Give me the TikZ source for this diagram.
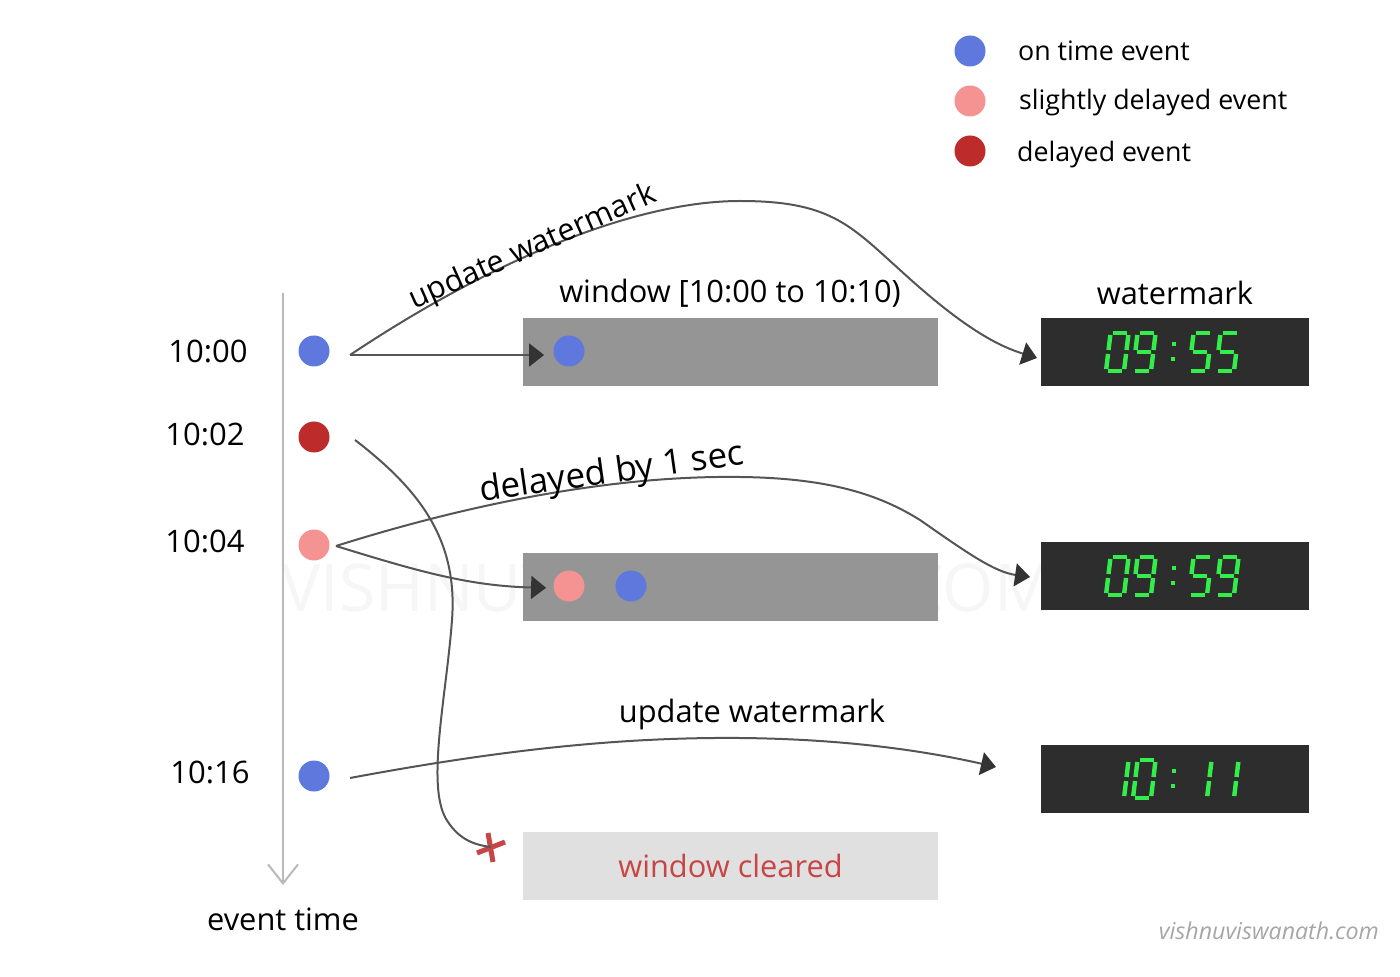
\documentclass[tikz,border=0pt]{standalone}
\usepackage{fontspec}
\setmainfont{Open Sans}
\usetikzlibrary{arrows.meta,positioning}

\definecolor{ontime}{HTML}{5F78DD}
\definecolor{slight}{HTML}{F59393}
\definecolor{late}{HTML}{BE2B2B}
\definecolor{winfill}{HTML}{959595}
\definecolor{clockfill}{HTML}{2D2D2D}
\definecolor{lcdgreen}{HTML}{33EE4A}
\definecolor{linegray}{HTML}{555555}
\definecolor{tipgray}{HTML}{333333}
\definecolor{clearfill}{HTML}{E0E0E0}
\definecolor{clearred}{HTML}{C84545}

% seven segment pieces, local units, y up
\newcommand\lcdsega{(2,38) -- (16,38)}
\newcommand\lcdsegb{(18,36) -- (18,21)}
\newcommand\lcdsegc{(18,17) -- (18,2)}
\newcommand\lcdsegd{(2,0) -- (16,0)}
\newcommand\lcdsege{(0,2) -- (0,17)}
\newcommand\lcdsegf{(0,21) -- (0,36)}
\newcommand\lcdsegg{(2,19) -- (16,19)}
\newcommand\lcd[3]{%
  \begin{scope}[shift={(#1,#2)},y=0.5pt,xslant=0.12]
    \foreach \s in {#3}{\draw[lcdseg] \csname lcdseg\s\endcsname;}
  \end{scope}}
\newcommand\lcdcolon[1]{%
  \fill[lcdgreen] (1172,#1-29) rectangle +(4,4);
  \fill[lcdgreen] (1171,#1-14) rectangle +(4,4);}

\begin{document}
\begin{tikzpicture}[
    x=0.5pt,y=-0.5pt,
    >={Triangle[length=7.5pt,width=11.5pt]},
    dot/.style={circle,minimum size=15.5pt,inner sep=0pt},
    winbox/.style={fill=winfill,minimum width=207.5pt,minimum height=34pt,inner sep=0pt},
    clockbox/.style={fill=clockfill,minimum width=134pt,minimum height=34pt,inner sep=0pt},
    keylbl/.style={font=\fontsize{13.4}{16}\selectfont},
    lbl/.style={font=\fontsize{15.4}{18}\selectfont},
    tlbl/.style={font=\fontsize{15.5}{18}\selectfont},
    flow/.style={draw=linegray,line width=1pt,-{>[fill=tipgray,color=tipgray]}},
    lcdseg/.style={draw=lcdgreen,line width=2.2pt}]
  \useasboundingbox (0,0) rectangle (1400,977);

  % faint site mark
  \node[font=\fontsize{33}{36}\selectfont,text=gray!7,anchor=west,inner sep=0pt] (mark) at (281,588) {VISHNUVISWANATH.COM};

  % legend
  \node[dot,fill=ontime] (k1) at (970,51) {};
  \node[dot,fill=slight] (k2) at (970,101) {};
  \node[dot,fill=late] (k3) at (970,151) {};
  \node[keylbl,anchor=west] (k1t) at (1011,51) {on time event};
  \node[keylbl,anchor=west] (k2t) at (1012,103) {slightly delayed event};
  \node[keylbl,anchor=west] (k3t) at (1010,155) {delayed event};

  % time axis
  \coordinate (tltop) at (283,293);
  \coordinate (tlbot) at (283,885);
  \draw[gray!55,line width=1pt,-{Straight Barb[length=9.5pt,width=15pt]}] (tltop) -- (tlbot);
  \node[lbl] (evt) at (283,919) {event time};

  % events
  \node[tlbl] (t1) at (208,351) {10:00};
  \node[tlbl] (t2) at (205,434) {10:02};
  \node[tlbl] (t3) at (205,541) {10:04};
  \node[tlbl] (t4) at (210,772) {10:16};
  \node[dot,fill=ontime] (e1) at (314,351) {};
  \node[dot,fill=late] (e2) at (314,437) {};
  \node[dot,fill=slight] (e3) at (314,545) {};
  \node[dot,fill=ontime] (e4) at (314,776) {};

  % windows
  \node[winbox] (w1) at (730.5,352) {};
  \node[winbox] (w2) at (730.5,587) {};
  \node[winbox,fill=clearfill,text=clearred,lbl] (w3) at (730.5,866) {window cleared};
  \node[lbl] (w1t) at (730,293) {window [10:00 to 10:10)};
  \node[dot,fill=ontime] (w1a) at (569,351) {};
  \node[dot,fill=slight] (w2a) at (569,586) {};
  \node[dot,fill=ontime] (w2b) at (631,586) {};

  % watermark clocks
  \node[clockbox] (c1) at (1175,352) {};
  \node[clockbox] (c2) at (1175,576) {};
  \node[clockbox] (c3) at (1175,779) {};
  \node[lbl] (c1t) at (1175,293) {watermark};
  \lcd{1106}{371}{a,b,c,d,e,f}
  \lcd{1133}{371}{a,b,c,d,f,g}
  \lcdcolon{371}
  \lcd{1189}{371}{a,f,g,c,d}
  \lcd{1216}{371}{a,f,g,c,d}
  \lcd{1106}{595}{a,b,c,d,e,f}
  \lcd{1133}{595}{a,b,c,d,f,g}
  \lcdcolon{595}
  \lcd{1189}{595}{a,f,g,c,d}
  \lcd{1216}{595}{a,b,c,d,f,g}
  \lcd{1106}{798}{b,c}
  \lcd{1133}{798}{a,b,c,d,e,f}
  \lcdcolon{798}
  \lcd{1189}{798}{b,c}
  \lcd{1216}{798}{b,c}

  % connectors
  \coordinate (s1) at (350,355);
  \coordinate (s3) at (336,546);
  \coordinate (s2) at (355,440);
  \coordinate (s4) at (350,778);
  \coordinate (a1) at (1037,358);
  \coordinate (a2) at (1030,577);
  \coordinate (a4) at (996,767);
  \node[inner sep=0pt,minimum size=15pt] (xm) at (491,847) {};
  \draw[clearred,line width=2.5pt] (477,853) -- (505,842) (488,833) -- (493,862);

  \draw[flow,shorten >=4.5pt] (s1) -- ([yshift=-2pt]w1a.west);
  \draw[flow] (s1) .. controls (500,255) and (640,201) .. (740,201)
    .. controls (830,201) and (850,225) .. (900,270)
    .. controls (960,325) and (995,345) .. (a1);
  \node[lbl,rotate=24] (u1) at (533,248) {update watermark};

  \draw[flow] (s3) .. controls (450,510) and (600,475) .. (740,477)
    .. controls (830,478) and (880,495) .. (920,520)
    .. controls (970,555) and (995,572) .. (a2);
  \node[font=\fontsize{17.5}{20}\selectfont,rotate=8] (d1) at (612,474) {delayed by 1 sec};
  \draw[flow,shorten >=3.5pt] (s3) .. controls (420,572) and (470,586) .. ([yshift=-1pt]w2a.west);

  \draw[draw=linegray,line width=1pt] (s2) .. controls (420,490) and (458,540) .. (452,620)
    .. controls (446,700) and (425,790) .. (448,822)
    .. controls (460,840) and (475,845) .. (xm.center);

  \draw[flow] (s4) .. controls (500,750) and (620,737) .. (740,738)
    .. controls (850,739) and (930,752) .. (a4);
  \node[lbl] (u2) at (752,714) {update watermark};

  \node[font=\fontsize{11.6}{14}\selectfont\itshape,text=gray!70,anchor=east] (site) at (1386,931) {vishnuviswanath.com};
\end{tikzpicture}
\end{document}
